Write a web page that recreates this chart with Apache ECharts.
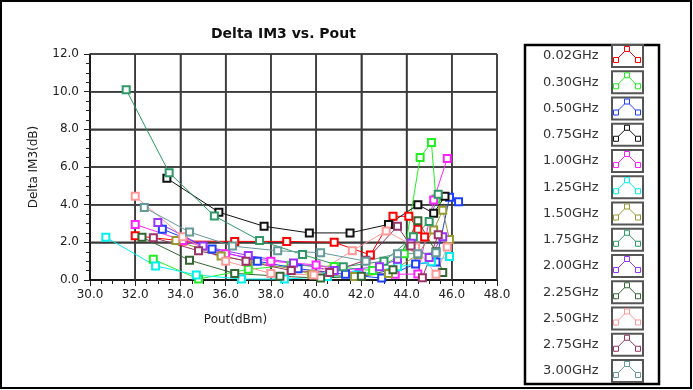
<!DOCTYPE html>
<html>
<head>
<meta charset="utf-8">
<script src="https://cdn.jsdelivr.net/npm/echarts@6/dist/echarts.min.js"></script>
<style>
  html, body { margin: 0; padding: 0; background: #fff; }
  #chart { width: 693px; height: 390px; }
</style>
</head>
<body>
<div id="chart"></div>
<script>
// series names / colours
var names = ["0.02GHz", "0.30GHz", "0.50GHz", "0.75GHz", "1.00GHz", "1.25GHz", "1.50GHz",
             "1.75GHz", "2.00GHz", "2.25GHz", "2.50GHz", "2.75GHz", "3.00GHz"];
var colors = ["#ff0000", "#22ee22", "#1f3fff", "#111111", "#ff22ff", "#00f0f0", "#999933",
              "#2e9966", "#9933ff", "#336633", "#ff9999", "#993366", "#669999"];

// major grid positions
var xTicks = [32, 34, 36, 38, 40, 42, 44, 46, 48];
var yTicks = [2, 4, 6, 8, 10, 12];

// [Pout, Delta IM3]
var f002 = [[32.0,2.35],[34.1,2.07],[36.4,2.05],[38.7,2.05],[40.8,2.0],[42.4,1.33],[43.4,3.38],[44.1,3.38],[44.5,2.7],[44.8,2.28]];
var f030 = [[32.8,1.1],[34.8,0.05],[37.0,0.57],[38.9,0.78],[40.8,0.72],[42.5,0.5],[43.9,1.4],[44.6,6.5],[45.1,7.3],[45.3,4.3]];
var f050 = [[33.2,2.7],[35.4,1.65],[37.4,1.0],[39.2,0.6],[41.3,0.3],[42.9,0.1],[44.4,0.85],[45.3,0.95],[45.9,4.4],[46.3,4.15]];
var f075 = [[33.4,5.4],[35.7,3.6],[37.7,2.85],[39.7,2.5],[41.5,2.5],[43.2,2.95],[44.5,4.0],[45.2,3.55],[45.7,4.45]];
var f100 = [[32.0,2.95],[34.1,2.1],[36.0,1.4],[38.0,1.0],[40.0,0.8],[41.9,0.35],[43.5,0.3],[44.5,0.32],[45.2,4.25],[45.8,6.45]];
var f125 = [[30.7,2.27],[32.9,0.75],[34.7,0.27],[36.7,0.05],[38.6,0.05],[40.5,0.18],[41.8,0.27],[43.6,0.7],[45.1,0.97],[45.9,1.25]];
var f150 = [[33.8,2.1],[35.8,1.27],[37.0,1.0],[38.9,0.6],[39.8,0.3],[41.7,0.18],[43.2,0.35],[44.5,1.35],[45.2,2.65],[45.6,3.7],[45.9,2.15]];
var f175 = [[31.6,10.1],[33.5,5.7],[35.5,3.4],[37.5,2.1],[39.4,1.35],[41.2,0.7],[43.0,1.0],[44.3,2.3],[45.0,3.1],[45.4,4.55]];
var f200 = [[33.0,3.05],[35.0,1.8],[37.0,1.3],[39.0,0.9],[40.8,0.5],[42.8,0.7],[43.6,1.1],[44.2,1.95],[45.0,1.2],[45.6,2.3]];
var f225 = [[32.3,2.27],[34.4,1.05],[36.4,0.35],[38.4,0.2],[40.2,0.1],[42.0,0.2],[43.4,0.55],[44.5,3.15],[45.3,1.5],[45.6,0.4]];
var f250 = [[32.0,4.45],[34.1,2.3],[36.0,1.0],[38.0,0.35],[39.9,0.27],[41.6,1.55],[43.1,2.6],[44.4,1.75],[45.3,0.3],[45.8,1.75]];
var f275 = [[32.8,2.25],[34.8,1.55],[36.9,1.0],[38.9,0.5],[40.6,0.4],[42.2,1.05],[43.6,2.85],[44.2,1.8],[44.7,0.12],[45.4,2.4]];
var f300 = [[32.4,3.85],[34.4,2.55],[36.3,1.8],[38.3,1.55],[40.2,1.45],[42.2,1.0],[43.6,1.4],[44.5,1.4],[45.3,1.45]];
var allData = [f002, f030, f050, f075, f100, f125, f150, f175, f200, f225, f250, f275, f300];

var font = "DejaVu Sans";
var chart = echarts.init(document.getElementById("chart"));

// grid lines as plain line series so they go through the axis scales
var series = [];
xTicks.forEach(function (v) {
  series.push({ name: "gx" + v, type: "line", data: [[v, 0], [v, 12]], symbol: "none",
    silent: true, z: 2.5, clip: false,
    lineStyle: { color: "#3a3a3a", width: 1.5, opacity: 1 }, animation: false });
});
yTicks.forEach(function (v) {
  series.push({ name: "gy" + v, type: "line", data: [[30, v], [48, v]], symbol: "none",
    silent: true, z: 2.5, clip: false,
    lineStyle: { color: "#3a3a3a", width: 1.5, opacity: 1 }, animation: false });
});

names.forEach(function (n, i) {
  series.push({
    name: n,
    type: "line",
    data: allData[i],
    symbol: "emptyRect",
    symbolSize: 7,
    lineStyle: { color: colors[i], width: 1 },
    itemStyle: { color: colors[i], borderWidth: 1.2 },
    z: 3,
    animation: false
  });
});

// legend drawn by hand: label + small boxed icon
var legendEls = [
  { type: "rect", shape: { x: 1, y: 1, width: 690, height: 387 },
    style: { fill: "transparent", stroke: "#000", lineWidth: 2 } },
  { type: "rect", shape: { x: 525, y: 45, width: 134, height: 339 },
    style: { fill: "transparent", stroke: "#000", lineWidth: 2.5 } }
];
names.forEach(function (n, i) {
  var cy = 56 + i * 26.25;
  var bx = 612, by = cy - 11;
  legendEls.push({ type: "text", x: 543, y: cy,
    style: { text: n, font: "13px " + font, fill: "#333", textVerticalAlign: "middle" } });
  legendEls.push({ type: "rect", shape: { x: bx, y: by, width: 31, height: 22 },
    style: { fill: "#fff", stroke: "#555", lineWidth: 2 } });
  legendEls.push({ type: "polyline",
    shape: { points: [[bx + 3, by + 18], [bx + 4, by + 15], [bx + 15, by + 4], [bx + 26, by + 15], [bx + 28, by + 12]] },
    style: { stroke: colors[i], lineWidth: 1, fill: "transparent" } });
  [[bx + 4, by + 15], [bx + 15, by + 4], [bx + 26, by + 15]].forEach(function (p) {
    legendEls.push({ type: "rect", shape: { x: p[0] - 2.5, y: p[1] - 2.5, width: 5, height: 5 },
      style: { fill: "#fff", stroke: colors[i], lineWidth: 1 } });
  });
});

chart.setOption({
  backgroundColor: "#fff",
  animation: false,
  title: {
    text: "Delta IM3 vs. Pout",
    left: 206, top: 22,
    textStyle: { fontFamily: font, fontSize: 14, fontWeight: "bold", color: "#111" }
  },
  grid: { left: 90, right: 196, top: 54, bottom: 110 },
  xAxis: {
    type: "value", min: 30, max: 48, interval: 2,
    name: "Pout(dBm)", nameLocation: "middle", nameGap: 34,
    nameTextStyle: { fontFamily: font, fontSize: 12, color: "#222", padding: [0, 116, 0, 0] },
    axisLine: { show: true, lineStyle: { color: "#000", width: 1.5 } },
    axisTick: { show: true, length: 6, lineStyle: { color: "#222" } },
    minorTick: { show: true, splitNumber: 4, length: 4, lineStyle: { color: "#222" } },
    axisLabel: { fontFamily: font, fontSize: 12, color: "#222", margin: 9,
      formatter: function (v) { return v.toFixed(1); } },
    splitLine: { show: true, lineStyle: { color: "#3a3a3a", width: 1.5 } }
  },
  yAxis: {
    type: "value", min: 0, max: 12, interval: 2,
    name: "Delta IM3(dB)", nameLocation: "middle", nameGap: 50,
    nameTextStyle: { fontFamily: font, fontSize: 12, color: "#222" },
    axisLine: { show: true, lineStyle: { color: "#000", width: 1.5 } },
    axisTick: { show: true, length: 6, lineStyle: { color: "#222" } },
    minorTick: { show: true, splitNumber: 4, length: 4, lineStyle: { color: "#222" } },
    axisLabel: { fontFamily: font, fontSize: 12, color: "#222", margin: 11,
      formatter: function (v) { return v.toFixed(1); } },
    splitLine: { show: true, lineStyle: { color: "#3a3a3a", width: 1.5 } }
  },
  series: series,
  graphic: legendEls
});
</script>
</body>
</html>
